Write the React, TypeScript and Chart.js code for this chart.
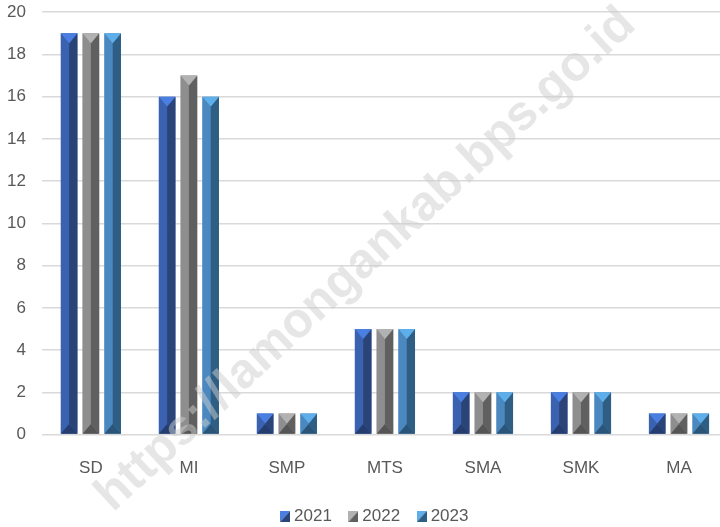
import React, { useEffect, useRef } from "react";
import { Chart, registerables } from "chart.js";

Chart.register(...registerables);

const categories = ["SD", "MI", "SMP", "MTS", "SMA", "SMK", "MA"];
const years = ["2021", "2022", "2023"];
const values2021 = [19, 16, 1, 5, 2, 2, 1];
const values2022 = [19, 17, 1, 5, 2, 2, 1];
const values2023 = [19, 16, 1, 5, 2, 2, 1];
const yTicks = [0, 2, 4, 6, 8, 10, 12, 14, 16, 18, 20];

// face colours: left, right, top, bottom
const faces = [
  { left: "#3a62b0", right: "#2a4478", top: "#4a7ee0", bottom: "#243d6e" },
  { left: "#8e8e8e", right: "#606060", top: "#b2b2b2", bottom: "#555555" },
  { left: "#4b88bf", right: "#2f5e85", top: "#5eaeea", bottom: "#2a5578" },
];

const FONT = "'Liberation Sans', Arial, sans-serif";
const FS = 17;

function legendIcon(light: string, dark: string) {
  const c = document.createElement("canvas");
  c.width = 10;
  c.height = 11;
  const g = c.getContext("2d")!;
  g.fillStyle = light;
  g.beginPath();
  g.moveTo(0, 0);
  g.lineTo(10, 0);
  g.lineTo(0, 11);
  g.closePath();
  g.fill();
  g.fillStyle = dark;
  g.beginPath();
  g.moveTo(10, 0);
  g.lineTo(10, 11);
  g.lineTo(0, 11);
  g.closePath();
  g.fill();
  return c;
}

const bevelPlugin = {
  id: "bevel",
  afterDatasetsDraw(chart: any) {
    const ctx = chart.ctx;
    chart.data.datasets.forEach((ds: any, i: number) => {
      const meta = chart.getDatasetMeta(i);
      const f = faces[i];
      meta.data.forEach((bar: any) => {
        const { x, y, base, width } = bar.getProps(["x", "y", "base", "width"], true);
        const L = x - width / 2;
        const R = x + width / 2;
        const T = Math.min(y, base);
        const B = Math.max(y, base);
        const h = B - T;
        const d = Math.min(width * 0.6, h / 2);
        const poly = (pts: number[][], col: string) => {
          ctx.fillStyle = col;
          ctx.beginPath();
          ctx.moveTo(pts[0][0], pts[0][1]);
          for (let k = 1; k < pts.length; k++) ctx.lineTo(pts[k][0], pts[k][1]);
          ctx.closePath();
          ctx.fill();
        };
        ctx.save();
        poly([[L, T], [x, T + d], [x, B - d], [L, B]], f.left);
        poly([[R, T], [x, T + d], [x, B - d], [R, B]], f.right);
        poly([[L, T], [R, T], [x, T + d]], f.top);
        poly([[L, B], [R, B], [x, B - d]], f.bottom);
        ctx.restore();
      });
    });
  },
};

const legendShiftPlugin = {
  id: "legendShift",
  afterLayout(chart: any) {
    const lg = chart.legend;
    if (!lg) return;
    lg.left += 17;
    lg.right += 17;
    lg.top -= 8;
    lg.bottom -= 8;
  },
};

const watermarkPlugin = {
  id: "watermark",
  afterDraw(chart: any) {
    const ctx = chart.ctx;
    const text = "https://lamongankab.bps.go.id";
    ctx.save();
    ctx.translate(366, 274);
    ctx.rotate((-42.8 * Math.PI) / 180);
    ctx.font = "bold 46px 'Liberation Sans', Arial, sans-serif";
    const w = ctx.measureText(text).width;
    const s = 715 / w;
    ctx.font = `bold ${46 * s}px 'Liberation Sans', Arial, sans-serif`;
    ctx.fillStyle = "rgba(205,205,205,0.5)";
    ctx.textAlign = "center";
    ctx.textBaseline = "middle";
    ctx.fillText(text, 0, 0);
    ctx.restore();
  },
};

export default function App() {
  const ref = useRef<HTMLCanvasElement>(null);
  useEffect(() => {
    if (!ref.current) return;
    const series = [values2021, values2022, values2023];
    const icons = faces.map((f) => legendIcon(f.top, f.right));
    const chart = new Chart(ref.current, {
      type: "bar",
      data: {
        labels: categories,
        datasets: years.map((yr, i) => ({
          label: yr,
          data: series[i],
          backgroundColor: faces[i].left,
          borderWidth: 0,
          categoryPercentage: 0.667,
          barPercentage: 0.76,
        })),
      },
      options: {
        animation: false,
        responsive: true,
        maintainAspectRatio: false,
        layout: { padding: { top: 0, left: -9, right: 2, bottom: -16 } },
        plugins: {
          tooltip: { enabled: false },
          legend: {
            position: "bottom",
            labels: {
              usePointStyle: true,
              pointStyleWidth: 1,
              padding: 21,
              color: "#595959",
              font: { family: FONT, size: FS },
              generateLabels: () =>
                years.map((yr, i) => ({
                  text: yr,
                  fillStyle: faces[i].left,
                  strokeStyle: faces[i].left,
                  lineWidth: 0,
                  pointStyle: icons[i],
                  hidden: false,
                  datasetIndex: i,
                  fontColor: "#595959",
                })),
            },
          },
        },
        scales: {
          x: {
            grid: { display: false },
            border: { display: false },
            ticks: { color: "#595959", font: { family: FONT, size: FS }, padding: 16 },
          },
          y: {
            min: 0,
            max: 20,
            afterBuildTicks: (axis: any) => {
              axis.ticks = yTicks.map((v) => ({ value: v }));
            },
            grid: { color: "#d9d9d9", lineWidth: 1.5, drawTicks: false },
            border: { display: false },
            ticks: { color: "#595959", font: { family: FONT, size: FS }, padding: 16 },
          },
        },
      },
      plugins: [bevelPlugin, legendShiftPlugin, watermarkPlugin],
    });
    return () => chart.destroy();
  }, []);
  return (
    <div style={{ position: "fixed", left: 0, top: 0, width: 720, height: 527, overflow: "hidden", background: "#fff" }}>
      <div style={{ position: "absolute", left: 0, top: -14, width: 730, height: 541 }}>
        <canvas ref={ref} />
      </div>
    </div>
  );
}
